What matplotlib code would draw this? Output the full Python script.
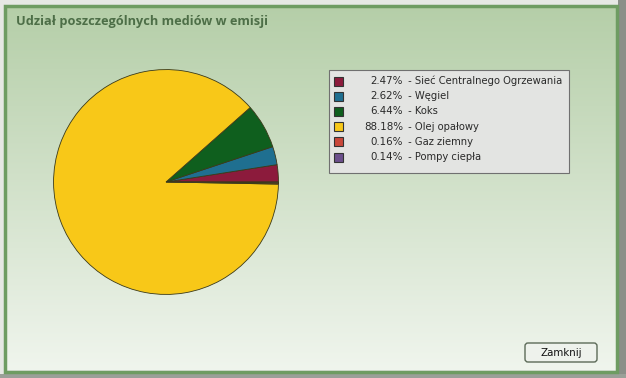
import numpy as np
import matplotlib
matplotlib.use("Agg")
import matplotlib.pyplot as plt
from matplotlib.patches import Rectangle, FancyBboxPatch

# data
labels = ["Sieć Centralnego Ogrzewania", "Węgiel", "Koks", "Olej opałowy",
          "Gaz ziemny", "Pompy ciepła"]
shares = [2.47, 2.62, 6.44, 88.18, 0.16, 0.14]
colors = ["#8c1b3c", "#1f6f90", "#0f5f1e", "#f8c818", "#c9473a", "#6c4f8c"]

W, H = 626, 378
fig = plt.figure(figsize=(W / 100, H / 100), dpi=100)
fig.patch.set_facecolor("#e6e8e4")

# window background: vertical gradient, pixel coordinates
bg = fig.add_axes([0, 0, 1, 1])
bg.set_xlim(0, W)
bg.set_ylim(H, 0)
bg.axis("off")
grad = np.linspace(0, 1, 256)[:, None]
top = np.array([0.71, 0.81, 0.66])
bot = np.array([0.94, 0.96, 0.93])
img = top + (bot - top) * grad[..., None]
bg.imshow(img, extent=(6, 616, 370, 7), aspect="auto", zorder=0)
bg.add_patch(Rectangle((5, 6), 612, 366, fill=False, ec="#6e9c62", lw=2.5, zorder=2))
bg.add_patch(Rectangle((618, 0), 8, H, fc="#8a8f88", ec="none", zorder=1))
bg.add_patch(Rectangle((0, 374), W, 4, fc="#9aa098", ec="none", zorder=1))

bg.text(16, 21, "Udział poszczególnych mediów w emisji", fontsize=9.2,
        fontweight="bold", family="Open Sans", color="#4d6e47", va="center")

# legend box
bg.add_patch(Rectangle((329, 70), 240, 103, fc="#e3e4e2", ec="#707070", lw=0.8, zorder=3))
for i, (lab, val, col) in enumerate(zip(labels, shares, colors)):
    y = 81 + i * 15.2
    bg.add_patch(Rectangle((334, y - 4.5), 9, 9, fc=col, ec="#333333", lw=0.8, zorder=4))
    bg.text(403, y, f"{val:.2f}%", fontsize=7.4, ha="right", va="center",
            color="#2a2a2a", zorder=5)
    bg.text(405, y, f" - {lab}", fontsize=7.2, ha="left", va="center",
            color="#2a2a2a", zorder=5)

# close button
bg.add_patch(FancyBboxPatch((525, 343), 72, 19, boxstyle="round,pad=0,rounding_size=3",
                            fc="#eef2ec", ec="#5c6a58", lw=1, zorder=3))
bg.text(561, 352.5, "Zamknij", fontsize=7.4, ha="center", va="center",
        color="#111111", zorder=4)

# pie
ax = fig.add_axes([53 / W, (H - 295) / H, 226 / W, 226 / H])
ax.pie(shares, colors=colors, startangle=0, counterclock=True,
       wedgeprops=dict(edgecolor="#3a3a1a", linewidth=0.6))
ax.set_xlim(-1.005, 1.005)
ax.set_ylim(-1.005, 1.005)
ax.set_aspect("equal")
ax.axis("off")

fig.savefig("out.png", dpi=100)
